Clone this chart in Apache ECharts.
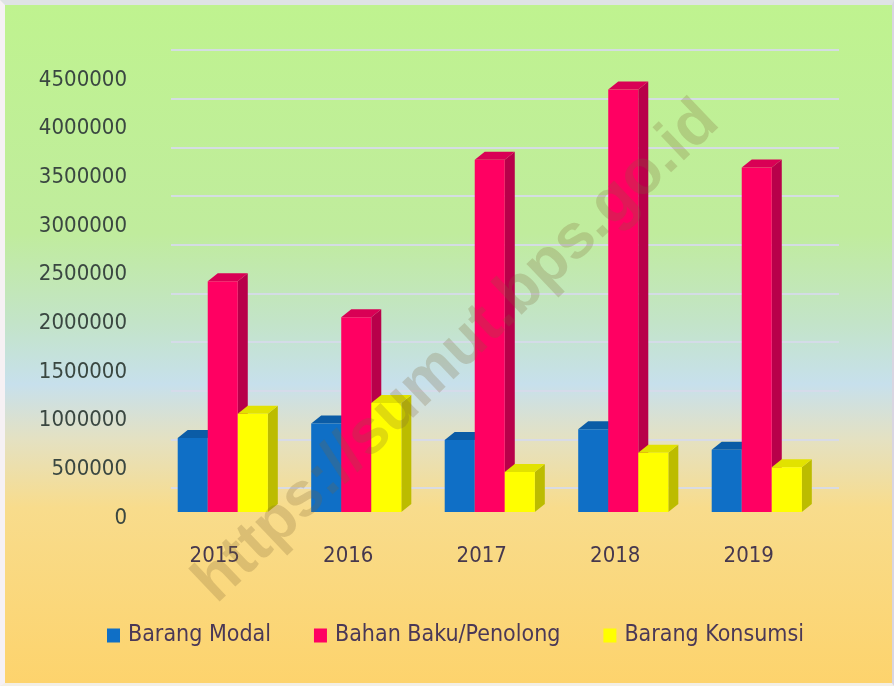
<!DOCTYPE html>
<html>
<head>
<meta charset="utf-8">
<script src="https://cdn.jsdelivr.net/npm/echarts@6/dist/echarts.min.js"></script>
<style>
  html, body { margin: 0; padding: 0; background: #fff; }
  #wrap { position: relative; width: 894px; height: 686px; }
  #chart { width: 894px; height: 686px; }
  #frame {
    position: absolute; left: 0; top: 0; width: 894px; height: 686px;
    box-sizing: border-box; pointer-events: none;
    border-top: 5px solid #dfe3e5; border-left: 5px solid #f6f1f4;
    border-right: 2px solid #d9d5e2; border-bottom: 3px solid #f3efe6;
  }
</style>
</head>
<body>
<div id="wrap">
  <div id="chart"></div>
  <div id="frame"></div>
</div>
<script>
const years = ['2015', '2016', '2017', '2018', '2019'];
const barangModal = [760000, 910000, 740000, 850000, 640000];
const bahanBaku = [2370000, 2000000, 3620000, 4340000, 3540000];
const barangKonsumsi = [1010000, 1120000, 410000, 610000, 460000];
const yMax = 4500000;
const yStep = 500000;

const FONT = "'Liberation Sans Narrow', 'DejaVu Sans Condensed', sans-serif";

// front / side / top colours for the pseudo 3D bars
const palette = [
  { front: '#0f6fc6', side: '#0a4f90', top: '#0b5ca6' },
  { front: '#ff0062', side: '#b8004a', top: '#d90055' },
  { front: '#ffff00', side: '#bcbc00', top: '#e2e200' }
];

const BAR_FRAC = 0.225;   // share of the category band per bar
const GROUP_SHIFT = 0.06; // groups sit slightly right of the label
const DX = 10, DY = 8;    // depth of the bars

function makeRender(slot, col) {
  return function (params, api) {
    const idx = api.value(0);
    const val = api.value(1);
    const base = api.coord([idx, 0]);
    const top = api.coord([idx, val]);
    const band = api.size([1, 0])[0];
    const w = band * BAR_FRAC;
    const x0 = base[0] + band * GROUP_SHIFT + slot * w - w / 2;
    const x1 = x0 + w;
    const yb = base[1], yt = top[1];
    return {
      type: 'group',
      children: [
        {
          type: 'polygon',
          shape: { points: [[x1, yb], [x1 + DX, yb - DY], [x1 + DX, yt - DY], [x1, yt]] },
          style: { fill: col.side }
        },
        {
          type: 'polygon',
          shape: { points: [[x0, yt], [x0 + DX, yt - DY], [x1 + DX, yt - DY], [x1, yt]] },
          style: { fill: col.top }
        },
        {
          type: 'rect',
          shape: { x: x0, y: yt, width: w, height: yb - yt },
          style: { fill: col.front }
        }
      ]
    };
  };
}

const seriesDefs = [
  { name: 'Barang Modal', values: barangModal },
  { name: 'Bahan Baku/Penolong', values: bahanBaku },
  { name: 'Barang Konsumsi', values: barangKonsumsi }
];

const chart = echarts.init(document.getElementById('chart'));

chart.setOption({
  animation: false,
  backgroundColor: new echarts.graphic.LinearGradient(0, 0, 0, 1, [
    { offset: 0, color: '#bff38f' },
    { offset: 0.34, color: '#c0ec9d' },
    { offset: 0.47, color: '#c3e4c8' },
    { offset: 0.56, color: '#c7e0ec' },
    { offset: 0.64, color: '#e4e1c2' },
    { offset: 0.74, color: '#f8dc8c' },
    { offset: 1, color: '#fdd36c' }
  ]),
  grid: [
    { left: 148, top: 74, width: 667.5, height: 438 },
    { left: 171, top: 50, width: 668, height: 438 }
  ],
  xAxis: [
    {
      type: 'category', gridIndex: 0, data: years,
      axisLine: { show: false }, axisTick: { show: false },
      axisLabel: { color: '#46384e', fontFamily: FONT, fontSize: 22, margin: 33 }
    },
    {
      type: 'category', gridIndex: 1, data: years, show: false
    }
  ],
  yAxis: [
    {
      type: 'value', gridIndex: 0, min: 0, max: yMax, interval: yStep,
      axisLine: { show: false }, axisTick: { show: false }, splitLine: { show: false },
      axisLabel: {
        color: '#3a4741', fontFamily: FONT, fontSize: 22, margin: 21,
        verticalAlign: 'top', lineHeight: 12,
        formatter: v => String(v)
      }
    },
    {
      type: 'value', gridIndex: 1, min: 0, max: yMax, interval: yStep,
      axisLine: { show: false }, axisTick: { show: false }, axisLabel: { show: false },
      splitLine: { lineStyle: { color: 'rgba(214,218,234,0.9)', width: 2 } }
    }
  ],
  legend: {
    left: 107, top: 624, padding: 0,
    icon: 'rect', itemWidth: 13, itemHeight: 14, itemGap: 43,
    textStyle: { color: '#4a3857', fontFamily: FONT, fontSize: 23, padding: [0, 0, 0, 3] },
    data: seriesDefs.map(s => s.name)
  },
  graphic: [
    {
      type: 'text', x: 457, y: 352, rotation: 0.76, z: 100, silent: true,
      style: {
        text: 'https://sumut.bps.go.id',
        fill: 'rgba(125,100,55,0.24)',
        font: "bold 63px 'Liberation Sans', Arial, sans-serif",
        textAlign: 'center', textVerticalAlign: 'middle'
      }
    }
  ],
  series: seriesDefs.map((s, i) => ({
    name: s.name,
    type: 'custom',
    coordinateSystem: 'cartesian2d',
    xAxisIndex: 0, yAxisIndex: 0,
    itemStyle: { color: palette[i].front },
    renderItem: makeRender(i - 1, palette[i]),
    encode: { x: 0, y: 1 },
    data: s.values.map((v, k) => [k, v]),
    clip: false
  }))
});
</script>
</body>
</html>
